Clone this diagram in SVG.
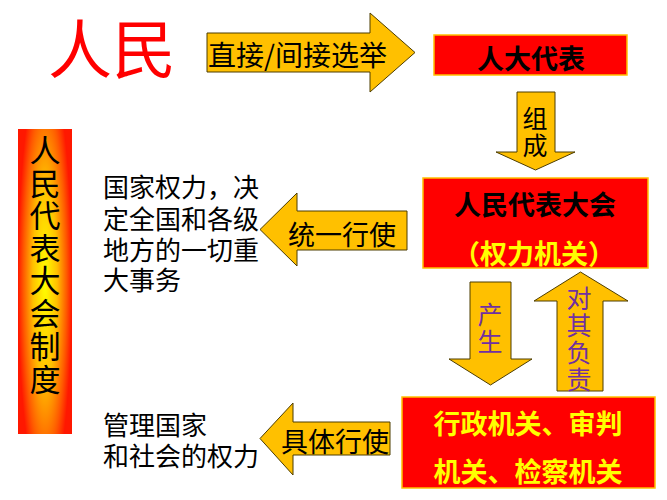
<svg xmlns="http://www.w3.org/2000/svg" width="667" height="500" viewBox="0 0 667 500">
<defs>
<radialGradient id="barGrad" gradientUnits="userSpaceOnUse" cx="45" cy="281" r="27" gradientTransform="translate(45 281) scale(1 8) translate(-45 -281)">
<stop offset="0" stop-color="#FFFF00"/>
<stop offset="0.45" stop-color="#FFC000"/>
<stop offset="0.8" stop-color="#FF5A00"/>
<stop offset="1" stop-color="#FF1800"/>
</radialGradient>
</defs>
<style>
text{font-family:"Noto Sans CJK SC","Noto Sans",sans-serif;dominant-baseline:central}
.arrow{fill:#FFC000;stroke:#4d3d00;stroke-width:1}
.box{fill:#FF0000;stroke:#FFC000;stroke-width:1.5}
.lbl{font-size:27px;fill:#000;text-anchor:middle}
.stk{font-size:25px}
.bold{font-weight:bold}
.yel{fill:#FFFF00}
.pur{fill:#7030A0}
.plain{font-size:26px;fill:#000}
</style>
<rect width="667" height="500" fill="#FFFFFF"/>

<g id="title">
<text x="48" y="45" style="font-size:64px;fill:#FF0000">人民</text>
</g>

<g id="system-bar">
<rect x="18" y="129" width="54" height="305" fill="url(#barGrad)"/>
<text x="45" style="font-size:31px;fill:#000;text-anchor:middle">
<tspan x="45" y="148">人</tspan><tspan x="45" y="181">民</tspan><tspan x="45" y="213">代</tspan><tspan x="45" y="246">表</tspan><tspan x="45" y="278">大</tspan><tspan x="45" y="311">会</tspan><tspan x="45" y="344">制</tspan><tspan x="45" y="377">度</tspan>
</text>
</g>

<g id="renda-daibiao">
<rect class="box" x="434" y="35" width="193" height="40"/>
<text class="lbl bold" x="531" y="57">人大代表</text>
</g>

<g id="renmin-daibiao-dahui">
<rect class="box" x="423" y="178" width="225" height="90"/>
<text class="lbl bold" x="535" y="203">人民代表大会</text>
<text class="lbl bold yel" x="534" y="252">（权力机关）</text>
</g>

<g id="organs">
<rect class="box" x="402" y="397" width="253" height="91"/>
<text class="lbl bold yel" x="528" y="422">行政机关、审判</text>
<text class="lbl bold yel" x="528" y="470">机关、检察机关</text>
</g>

<g id="text-power">
<text class="plain"><tspan x="103" y="185">国家权力，决</tspan><tspan x="103" y="217">定全国和各级</tspan><tspan x="103" y="248">地方的一切重</tspan><tspan x="103" y="278">大事务</tspan></text>
</g>

<g id="text-manage">
<text class="plain"><tspan x="103" y="423">管理国家</tspan><tspan x="103" y="454">和社会的权力</tspan></text>
</g>

<g id="connectors">
<g id="arrow-election">
<path class="arrow" d="M207,33 H370 V13 L415,52.5 L370,92 V72 H207 Z"/>
<text x="208" y="54" style="font-size:28px;fill:#000">直接/间接选举</text>
</g>
<g id="arrow-compose">
<path class="arrow" d="M517,92 H555 V152 H575 L535.5,170 L496,152 H517 Z"/>
<text class="lbl stk" x="535" y="117">组</text>
<text class="lbl stk" x="535" y="144">成</text>
</g>
<g id="arrow-unified">
<path class="arrow" d="M260,229.5 L297,193 V211 H407 V250 H297 V266 Z"/>
<text class="lbl" x="342" y="233">统一行使</text>
</g>
<g id="arrow-produce">
<path class="arrow" d="M470,282 H511 V359 H532 L490.5,385 L449,359 H470 Z"/>
<text class="lbl stk pur" x="490" y="313">产</text>
<text class="lbl stk pur" x="490" y="340">生</text>
</g>
<g id="arrow-responsible">
<path class="arrow" d="M580.5,272 L628,301 H603 V391 H557 V301 H534 Z"/>
<text class="lbl stk pur" x="579" y="297">对</text>
<text class="lbl stk pur" x="579" y="324">其</text>
<text class="lbl stk pur" x="579" y="351">负</text>
<text class="lbl stk pur" x="579" y="378">责</text>
</g>
<g id="arrow-concrete">
<path class="arrow" d="M260,438.5 L293,403 V422 H390 V455 H293 V475 Z"/>
<text class="lbl" x="335" y="440">具体行使</text>
</g>
</g>
</svg>
